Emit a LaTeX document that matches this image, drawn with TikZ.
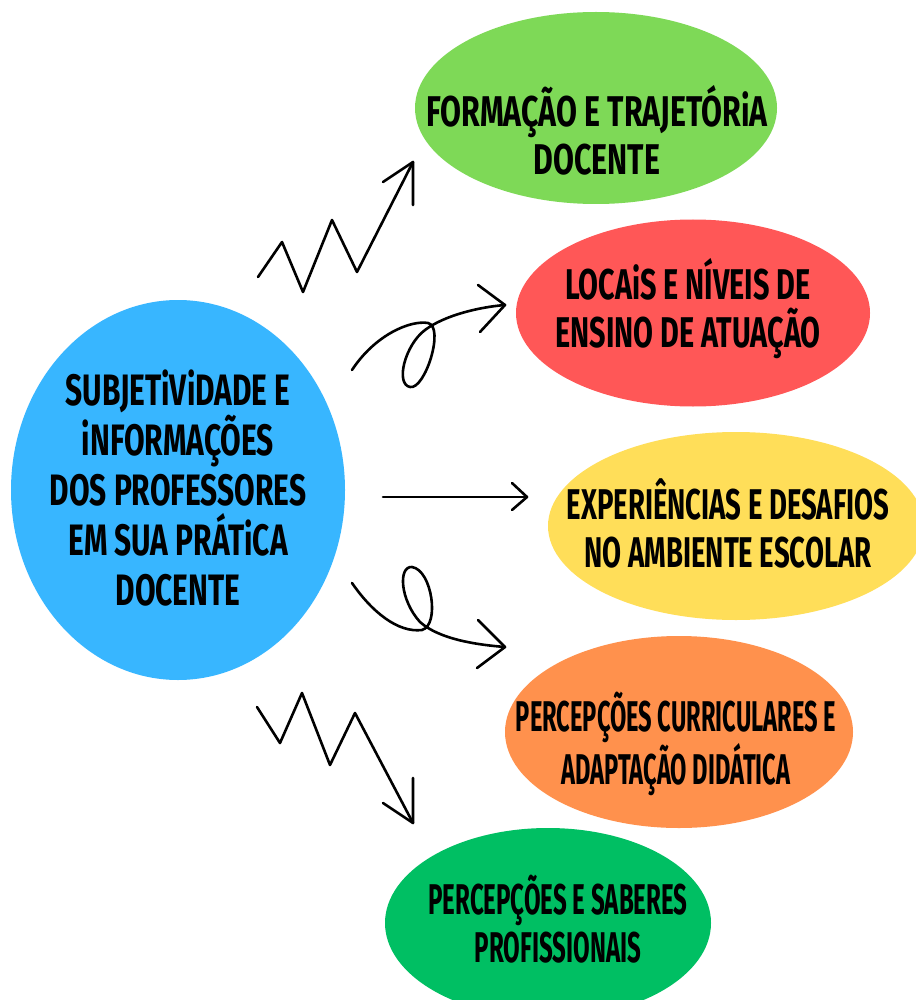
\documentclass[tikz,border=0pt]{standalone}
\usepackage{fontspec}
\newfontfamily\handfont{Fira Sans}
\definecolor{cgreen}{HTML}{7ED957}
\definecolor{cred}{HTML}{FF5757}
\definecolor{cyellow}{HTML}{FFDE59}
\definecolor{corange}{HTML}{FF914D}
\definecolor{cdkgreen}{HTML}{00BF63}
\definecolor{cblue}{HTML}{38B6FF}
\usetikzlibrary{shapes.geometric}
\tikzset{
  blob/.style={ellipse, draw=none, inner sep=0pt},
  lbl/.style={align=center, font=\fontsize{43}{48}\handfont\bfseries\addfontfeatures{FakeStretch=#1}, text=black, inner sep=0pt},
  lblbig/.style={align=center, font=\fontsize{44}{50}\handfont\bfseries\addfontfeatures{FakeStretch=#1}, text=black, inner sep=0pt},
  squig/.style={line width=2.6pt, line cap=round, line join=round, draw=black},
}
\begin{document}
\begin{tikzpicture}[x=1pt,y=-1pt]
\useasboundingbox (0,0) rectangle (915,1000);
\fill[white] (0,0) rectangle (915,1000);
% ellipses
\node[blob, fill=cblue, minimum width=334pt, minimum height=380pt] (cen) at (178,490) {};
\node[blob, fill=cgreen, minimum width=362pt, minimum height=192pt] (e1) at (596,108) {};
\node[blob, fill=cred, minimum width=354pt, minimum height=187pt] (e2) at (693,313) {};
\node[blob, fill=cyellow, minimum width=376pt, minimum height=188pt] (e3) at (736,526) {};
\node[blob, fill=corange, minimum width=348pt, minimum height=192pt] (e4) at (679,732) {};
\node[blob, fill=cdkgreen, minimum width=326pt, minimum height=190pt] (e5) at (548,923) {};
% labels
\node[lblbig=0.68] (tcen) at (178,488) {SUBJETiViDADE E\\iNFORMAÇÕES\\DOS PROFESSORES\\EM SUA PRÁTiCA\\DOCENTE};
\node[lbl=0.705] (t1) at (597,130) {FORMAÇÃO E TRAJETÓRiA\\DOCENTE};
\node[lbl=0.67] (t2) at (688,309) {LOCAiS E NÍVEIS DE\\ENSINO DE ATUAÇÃO};
\node[lbl=0.64] (t3) at (728,523) {EXPERIÊNCIAS E DESAFIOS\\NO AMBIENTE ESCOLAR};
\node[lbl=0.55] (t4) at (676,744) {PERCEPÇÕES CURRICULARES E\\ADAPTAÇÃO DIDÁTICA};
\node[lbl=0.56] (t5) at (558,919) {PERCEPÇÕES E SABERES\\PROFISSIONAIS};
% connector end points
\coordinate (a1s) at (258,277); \coordinate (a1e) at (413,162);
\coordinate (a2s) at (352,370); \coordinate (a2e) at (505,305);
\coordinate (a3s) at (383,497); \coordinate (a3e) at (527,497);
\coordinate (a4s) at (352,583); \coordinate (a4e) at (505,647);
\coordinate (a5s) at (257,707); \coordinate (a5e) at (413,823);
% zigzag up
\draw[squig] (a1s) -- (282,242) -- (303,292) -- (332,220) -- (357,272) -- (a1e);
\draw[squig] (383,182) -- (a1e) -- (413,205);
% curl up
\draw[squig] (a2s) .. controls (375,335) and (410,320) .. (428,323)
  .. controls (445,327) and (425,390) .. (410,387)
  .. controls (395,384) and (405,345) .. (425,330)
  .. controls (445,315) and (480,307) .. (a2e);
\draw[squig] (478,285) -- (a2e) -- (480,332);
% straight
\draw[squig] (a3s) -- (a3e);
\draw[squig] (512,483) -- (a3e) -- (512,510);
% curl down
\draw[squig] (a4s) .. controls (372,612) and (398,633) .. (422,630)
  .. controls (440,625) and (432,570) .. (412,567)
  .. controls (398,566) and (400,600) .. (420,622)
  .. controls (440,640) and (480,645) .. (a4e);
\draw[squig] (478,620) -- (a4e) -- (477,668);
% zigzag down
\draw[squig] (a5s) -- (280,743) -- (302,693) -- (330,765) -- (355,713) -- (a5e);
\draw[squig] (383,803) -- (a5e) -- (413,778);
\end{tikzpicture}
\end{document}
